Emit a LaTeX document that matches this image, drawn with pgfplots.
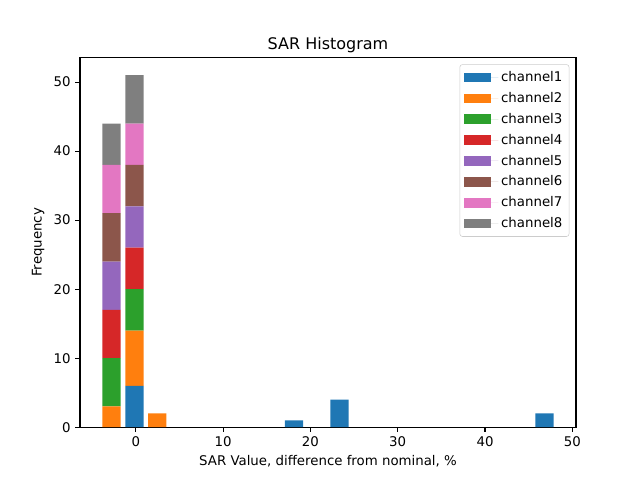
\documentclass[border=0pt]{standalone}
\usepackage{pgfplots}
\pgfplotsset{compat=1.18}
\usepackage{fontspec}
\setmainfont{DejaVu Sans}
\definecolor{c1}{HTML}{1F77B4}
\definecolor{c2}{HTML}{FF7F0E}
\definecolor{c3}{HTML}{2CA02C}
\definecolor{c4}{HTML}{D62728}
\definecolor{c5}{HTML}{9467BD}
\definecolor{c6}{HTML}{8C564B}
\definecolor{c7}{HTML}{E377C2}
\definecolor{c8}{HTML}{7F7F7F}
\begin{document}
\begin{tikzpicture}
\path[use as bounding box] (-60pt,-39.6pt) rectangle (420pt,320.4pt);
\begin{axis}[
  at={(0,0)}, anchor=south west,
  scale only axis, width=372pt, height=277.2pt,
  xmin=-6.39, xmax=50.42, ymin=0, ymax=53.55,
  ybar stacked, bar width=2.09,
  xtick={0,10,20,30,40,50}, ytick={0,10,20,30,40,50},
  tick align=outside, xtick pos=left, ytick pos=left,
  major tick length=3.5pt,
  every tick/.style={black, line width=0.8pt},
  axis line style={line width=0.8pt},
  tick label style={font=\fontsize{10}{12}\selectfont},
  /pgf/number format/assume math mode=true,
  title={SAR Histogram},
  title style={font=\fontsize{12}{14}\selectfont, yshift=-6pt},
  xlabel={SAR Value, difference from nominal, \%},
  ylabel={Frequency},
  label style={font=\fontsize{10}{12}\selectfont},
  legend cell align=left,
  legend image code/.code={\fill[#1, sharp corners] (0pt,-3.5pt) rectangle (20.5pt,3.5pt); \path (0pt,0pt) -- (26pt,0pt);},
  legend style={at={(1,1)}, anchor=north east, xshift=-5pt, yshift=-5pt,
    draw=black!20, rounded corners=2pt, font=\fontsize{10}{12}\selectfont,
    row sep=2.6pt, inner xsep=3pt, inner ysep=3pt},
]
\addplot[fill=c1, draw=none] coordinates {(-2.77,0) (-0.16,6) (2.45,0) (18.11,1) (23.33,4) (46.82,2)};
\addplot[fill=c2, draw=none] coordinates {(-2.77,3) (-0.16,8) (2.45,2) (18.11,0) (23.33,0) (46.82,0)};
\addplot[fill=c3, draw=none] coordinates {(-2.77,7) (-0.16,6) (2.45,0) (18.11,0) (23.33,0) (46.82,0)};
\addplot[fill=c4, draw=none] coordinates {(-2.77,7) (-0.16,6) (2.45,0) (18.11,0) (23.33,0) (46.82,0)};
\addplot[fill=c5, draw=none] coordinates {(-2.77,7) (-0.16,6) (2.45,0) (18.11,0) (23.33,0) (46.82,0)};
\addplot[fill=c6, draw=none] coordinates {(-2.77,7) (-0.16,6) (2.45,0) (18.11,0) (23.33,0) (46.82,0)};
\addplot[fill=c7, draw=none] coordinates {(-2.77,7) (-0.16,6) (2.45,0) (18.11,0) (23.33,0) (46.82,0)};
\addplot[fill=c8, draw=none] coordinates {(-2.77,6) (-0.16,7) (2.45,0) (18.11,0) (23.33,0) (46.82,0)};
\legend{channel1,channel2,channel3,channel4,channel5,channel6,channel7,channel8}
\end{axis}
\end{tikzpicture}
\end{document}
